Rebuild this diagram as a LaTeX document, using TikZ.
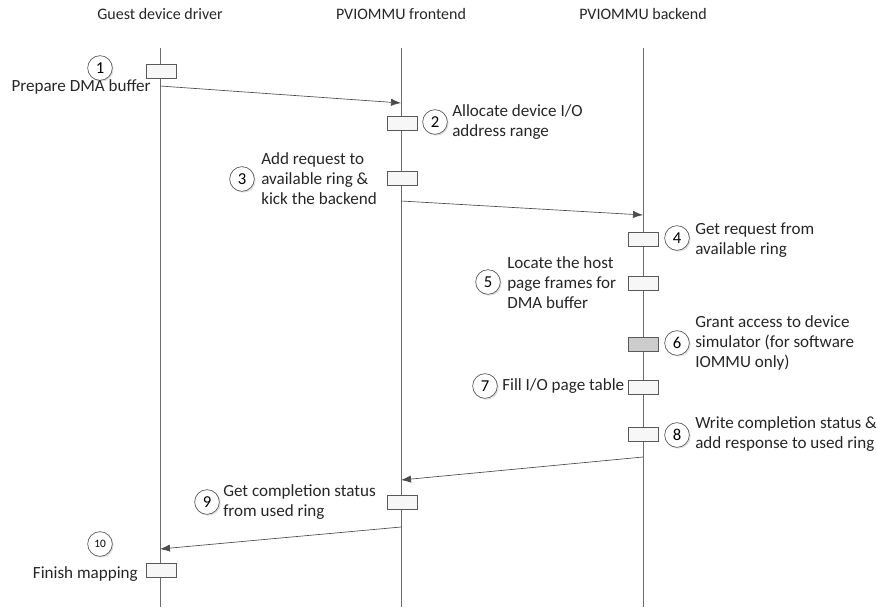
\documentclass[tikz,border=0pt]{standalone}
\usepackage{fontspec}
\setmainfont{Carlito}
\usetikzlibrary{arrows.meta,shadows}
\begin{document}
\begin{tikzpicture}[x=0.75pt,y=-0.75pt,
  font=\fontsize{12.8}{15}\selectfont,
  lifeline/.style={draw=gray!85!black,line width=0.6pt},
  head/.style={text=black!85,inner sep=0pt,font=\fontsize{12}{14}\selectfont},
  actbox/.style={draw=gray!70!black,line width=0.5pt,fill=gray!6,minimum width=22.5pt,minimum height=10.5pt,inner sep=0pt,
    drop shadow={shadow xshift=1pt,shadow yshift=-1pt,opacity=0.25,fill=gray}},
  darkbox/.style={actbox,fill=gray!40},
  stepno/.style={circle,draw=gray!70!black,line width=0.5pt,fill=white,minimum size=18.5pt,inner sep=0pt,font=\fontsize{12.5}{12.5}\selectfont,
    drop shadow={shadow xshift=1pt,shadow yshift=-1pt,opacity=0.25,fill=gray}},
  lbl/.style={align=left,anchor=west,inner sep=0pt,text=black!85},
  msg/.style={draw=black!70,line width=0.5pt,-{Latex[length=7.5pt,width=5.5pt]}}
]
\useasboundingbox (0,0) rectangle (877,607);

% participants
\node[head] (h1) at (160,14) {Guest device driver};
\node[head] (h2) at (401,14) {PVIOMMU frontend};
\node[head] (h3) at (643,14) {PVIOMMU backend};

\coordinate (l1t) at (160,48); \coordinate (l1b) at (160,607);
\coordinate (l2t) at (401,48); \coordinate (l2b) at (401,607);
\coordinate (l3t) at (643,48); \coordinate (l3b) at (643,607);
\draw[lifeline] (l1t) -- (l1b);
\draw[lifeline] (l2t) -- (l2b);
\draw[lifeline] (l3t) -- (l3b);

% activation boxes
\node[actbox] (b1) at (161,71) {};
\node[actbox] (b2) at (402,123) {};
\node[actbox] (b3) at (402,178) {};
\node[actbox] (b4) at (643,239) {};
\node[actbox] (b5) at (643,283) {};
\node[darkbox] (b6) at (643,344) {};
\node[actbox] (b7) at (643,387) {};
\node[actbox] (b8) at (643,434) {};
\node[actbox] (b9) at (402,502) {};
\node[actbox] (b10) at (161,570) {};

% step numbers and descriptions
\node[stepno] (n1) at (100,68) {1};
\node[inner sep=0pt,text=black!85] (t1) at (81,87) {Prepare DMA buffer};

\node[stepno] (n2) at (435,122) {2};
\node[lbl] (t2) at (452,122) {Allocate device I/O\\address range};

\node[stepno] (n3) at (242,179) {3};
\node[lbl] (t3) at (261,179) {Add request to\\available ring \&\\kick the backend};

\node[stepno] (n4) at (677,238) {4};
\node[lbl] (t4) at (695,240) {Get request from\\available ring};

\node[stepno] (n5) at (488,282) {5};
\node[lbl] (t5) at (507,283) {Locate the host\\page frames for\\DMA buffer};

\node[stepno] (n6) at (677,343) {6};
\node[lbl] (t6) at (695,343) {Grant access to device\\simulator (for software\\IOMMU only)};

\node[stepno] (n7) at (485,386) {7};
\node[lbl] (t7) at (502,386) {Fill I/O page table};

\node[stepno] (n8) at (677,435) {8};
\node[lbl] (t8) at (695,434) {Write completion status \&\\add response to used ring};

\node[stepno] (n9) at (207,502) {9};
\node[lbl] (t9) at (223,502) {Get completion status\\from used ring};

\node[stepno,font=\fontsize{8.5}{8.5}\selectfont] (n10) at (100,544) {10};
\node[anchor=east,inner sep=0pt,text=black!85] (t10) at (138,574) {Finish mapping};

% messages
\coordinate (m1s) at (160,86);  \coordinate (m1e) at (401,103);
\coordinate (m2s) at (401,201); \coordinate (m2e) at (643,215);
\coordinate (m3s) at (643,457); \coordinate (m3e) at (401,480);
\coordinate (m4s) at (401,527); \coordinate (m4e) at (160,549);
\draw[msg] (m1s) -- (m1e);
\draw[msg] (m2s) -- (m2e);
\draw[msg] (m3s) -- (m3e);
\draw[msg] (m4s) -- (m4e);
\end{tikzpicture}
\end{document}
